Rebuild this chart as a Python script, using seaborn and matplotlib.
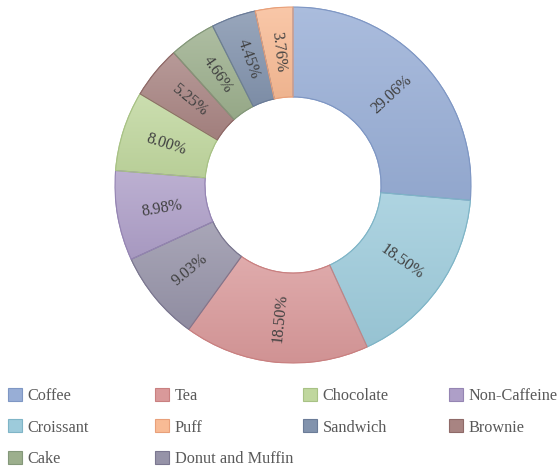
import matplotlib
matplotlib.use("Agg")
import matplotlib.pyplot as plt
import matplotlib.colors as mcolors
import seaborn as sns
import numpy as np

categories = ["Coffee", "Croissant", "Tea", "Donut and Muffin", "Non-Caffeine",
              "Chocolate", "Brownie", "Cake", "Sandwich", "Puff"]
values = [29.06, 18.50, 18.50, 9.03, 8.98, 8.00, 5.25, 4.66, 4.45, 3.76]
value_labels = ["29.06%", "18.50%", "18.50%", "9.03%", "8.98%",
                "8.00%", "5.25%", "4.66%", "4.45%", "3.76%"]
colors = ["#98aed6", "#9dcbdb", "#d9999a", "#9693a8", "#ae9fc8",
          "#c0d79e", "#a88482", "#9caf8d", "#8293ad", "#f8bb95"]
edge_colors = ["#7f97c4", "#7fb5c7", "#c98080", "#7b7790", "#9585b3",
               "#a8c285", "#8f6a68", "#84987a", "#6b7c98", "#e8a07a"]
legend_rows = [["Coffee", "Tea", "Chocolate", "Non-Caffeine"],
               ["Croissant", "Puff", "Sandwich", "Brownie"],
               ["Cake", "Donut and Muffin"]]

sns.set_theme(style="white")
plt.rcParams["font.family"] = ["Liberation Serif", "DejaVu Serif"]

W, H = 557, 468
fig = plt.figure(figsize=(W / 100, H / 100), dpi=100)
cx, cy, R = 293, 185, 178
ax = fig.add_axes([(cx - R) / W, 1 - (cy + R) / H, 2 * R / W, 2 * R / H])

palette = sns.color_palette(colors)
wedges, _ = ax.pie(values, colors=palette, startangle=90,
                   counterclock=False, radius=1.0,
                   wedgeprops=dict(width=0.505, linewidth=0.8))


def mix(c, other, t):
    c = np.array(mcolors.to_rgb(c))
    o = np.array(mcolors.to_rgb(other))
    return (1 - t) * c + t * o


for w, ec, base in zip(wedges, edge_colors, palette):
    w.set_edgecolor(ec)
    bb = w.get_path().get_extents()
    top = mix(base, "white", 0.18)
    bot = mix(base, "black", 0.04)
    t = np.linspace(0, 1, 64)[:, None]
    grad = top[None, :] * (1 - t) + bot[None, :] * t
    img = ax.imshow(grad[:, None, :], extent=(bb.x0, bb.x1, bb.y0, bb.y1),
                    origin="upper", aspect="auto", zorder=w.get_zorder() + 0.1,
                    interpolation="bilinear")
    img.set_clip_path(w)
    ol = plt.matplotlib.patches.PathPatch(w.get_path(), facecolor="none",
                                          edgecolor=ec, linewidth=0.8,
                                          zorder=w.get_zorder() + 0.2)
    ax.add_patch(ol)

ax.set_xlim(-1, 1)
ax.set_ylim(-1, 1)
ax.set_aspect("equal")
ax.axis("off")

for w, lab in zip(wedges, value_labels):
    mid = (w.theta1 + w.theta2) / 2.0
    r = 0.75
    x = r * np.cos(np.radians(mid))
    y = r * np.sin(np.radians(mid))
    rot = (mid + 180) % 360 - 180
    if rot > 90:
        rot -= 180
    elif rot < -90:
        rot += 180
    ax.text(x, y, lab, rotation=rot, rotation_mode="anchor", ha="center",
            va="center", fontsize=11.5, color="#404040", zorder=10)

handle_map = dict(zip(categories, wedges))
col_x = [8, 155, 303, 449]
top_y = 388
for c in range(4):
    names = [row[c] for row in legend_rows if c < len(row)]
    hs = []
    for n in names:
        p = plt.Rectangle((0, 0), 1, 1, facecolor=handle_map[n].get_facecolor(),
                          edgecolor=edge_colors[categories.index(n)], linewidth=0.8)
        hs.append(p)
    fig.legend(hs, names, loc="upper left",
               bbox_to_anchor=(col_x[c] / W, 1 - top_y / H),
               frameon=False, fontsize=11.7, labelcolor="#595959",
               handlelength=0.86, handleheight=0.86, handletextpad=0.36,
               labelspacing=0.94, borderaxespad=0, borderpad=0)

fig.savefig("out.png", dpi=100)
